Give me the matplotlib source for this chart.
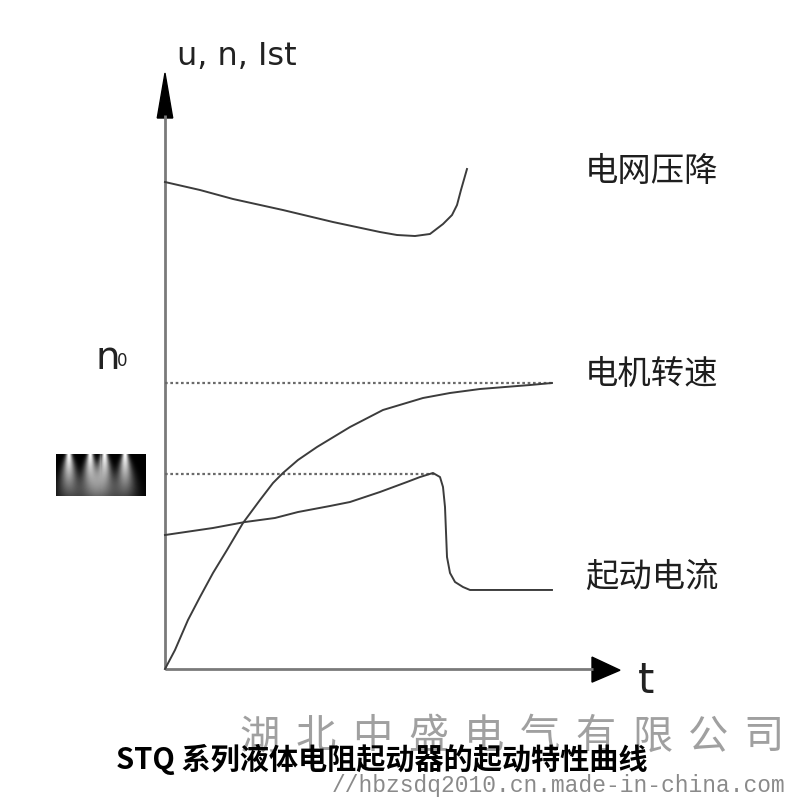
import numpy as np
import matplotlib
matplotlib.use("Agg")
import matplotlib.pyplot as plt
from matplotlib.patches import Polygon

plt.rcParams['font.family'] = ['Noto Sans CJK SC', 'DejaVu Sans']

# ---- curve data (time in arbitrary units, value in arbitrary units) ----
# grid voltage drop
volt_t = [0.0, 0.769, 1.495, 2.593, 3.692, 4.725, 5.099, 5.495, 5.824,
          6.110, 6.308, 6.418, 6.505, 6.637]
volt_v = [8.171, 8.037, 7.886, 7.701, 7.500, 7.332, 7.282, 7.265, 7.299,
          7.466, 7.617, 7.785, 8.037, 8.389]

# motor speed
speed_t = [0.0, 0.22, 0.505, 0.769, 1.055, 1.363, 1.714, 2.088, 2.374,
           2.593, 2.923, 3.341, 4.066, 4.791, 5.670, 6.264, 6.923, 8.022, 8.505]
speed_v = [0.0, 0.319, 0.822, 1.208, 1.611, 1.997, 2.450, 2.836, 3.121,
           3.289, 3.507, 3.725, 4.060, 4.346, 4.547, 4.631, 4.698, 4.765, 4.799]

# starting current
curr_t = [0.0, 1.055, 1.758, 2.418, 2.923, 3.626, 4.066, 4.725, 5.319,
          5.604, 5.890, 6.044, 6.110, 6.154, 6.198, 6.264, 6.374, 6.549,
          6.703, 8.505]
curr_v = [2.248, 2.366, 2.466, 2.534, 2.634, 2.735, 2.802, 2.970, 3.138,
          3.221, 3.289, 3.221, 3.054, 2.718, 1.879, 1.611, 1.460, 1.376,
          1.326, 1.326]

# reference levels: synchronous speed n0 and peak starting current
n0_level = 4.799
n0_end = 8.505
ist_level = 3.272
ist_end = 5.978

curve_labels = ["电网压降", "电机转速", "起动电流"]
label_v = [8.34, 4.95, 1.53]

company = "湖北中盛电气有限公司"
website = "//hbzsdq2010.cn.made-in-china.com"
caption = "STQ 系列液体电阻起动器的起动特性曲线"

# ---- figure ----
fig = plt.figure(figsize=(8, 8), dpi=100)
ax = fig.add_axes([0, 0, 1, 1])
ax.set_xlim(-3.626, 13.956)
ax.set_ylim(-2.198, 11.225)
ax.axis('off')

axis_col = '#7a7a7a'
curve_col = '#3c3c3c'

# axes with arrow heads
ax.plot([0, 0], [0, 9.3], color=axis_col, lw=2.0, solid_capstyle='butt')
ax.plot([0, 9.4], [0, 0], color=axis_col, lw=2.0, solid_capstyle='butt')
ax.add_patch(Polygon([[-0.17, 9.245], [0.17, 9.245], [0, 10.0]],
                     closed=True, color='black'))
ax.add_patch(Polygon([[9.385, 0.2], [9.385, -0.22], [10.0, -0.02]],
                     closed=True, color='black'))

# reference dotted lines
ax.plot([0, n0_end], [n0_level, n0_level], color='#6a6a6a', lw=1.6,
        linestyle=(0, (1.2, 1.2)))
ax.plot([0, ist_end], [ist_level, ist_level], color='#6a6a6a', lw=1.6,
        linestyle=(0, (1.2, 1.2)))

# curves
ax.plot(volt_t, volt_v, color=curve_col, lw=1.4)
ax.plot(speed_t, speed_v, color=curve_col, lw=1.4)
ax.plot(curr_t, curr_v, color=curve_col, lw=1.4)

# axis titles
latin = ['DejaVu Sans']
ax.text(0.26, 10.27, "u, n, Ist", fontsize=23, family=latin,
        ha='left', va='center', color='#222222')
ax.text(-1.52, 5.22, "n", fontsize=28, family=latin,
        ha='left', va='center', color='#222222')
ax.text(-1.06, 5.16, "0", fontsize=12, family=latin,
        ha='left', va='center', color='#222222')
ax.text(10.4, -0.2, "t", fontsize=30, family=latin,
        ha='left', va='center', color='#222222')

# curve names
for name, v in zip(curve_labels, label_v):
    ax.text(9.23, v, name, fontsize=24, ha='left', va='center',
            color='#1e1e1e')

# redacted block beside the current axis
h, w = 42, 89
yy, xx = np.mgrid[0:h, 0:w]
img = np.zeros((h, w))
for c in [0.14, 0.38, 0.53, 0.76]:
    spread = 3 + 10 * yy / h
    img += np.exp(-((xx - c * w) / spread) ** 2) * (1 - 0.75 * yy / h)
img = np.clip(img, 0, 1)
ax.imshow(img, cmap='gray', vmin=0, vmax=1, extent=[-2.396, -0.44, 2.903, 3.607],
          aspect='auto', interpolation='nearest', zorder=3)

# company watermark
for i, ch in enumerate(company):
    ax.text(-3.626 + (260 + 56 * i) / 45.5, -1.14, ch, fontsize=29,
            weight='light', ha='center', va='center', color='#a0a0a0',
            zorder=1)
ax.text(3.66, -1.95, website, fontsize=16.5, family=['Liberation Mono', 'DejaVu Sans Mono'],
        ha='left', va='center', color='#8a8a8a', zorder=1)

# caption
ax.text(4.77, -1.51, caption, fontsize=21, weight='bold', ha='center',
        va='center', color='black', zorder=4)

fig.savefig("out.png", dpi=100)
